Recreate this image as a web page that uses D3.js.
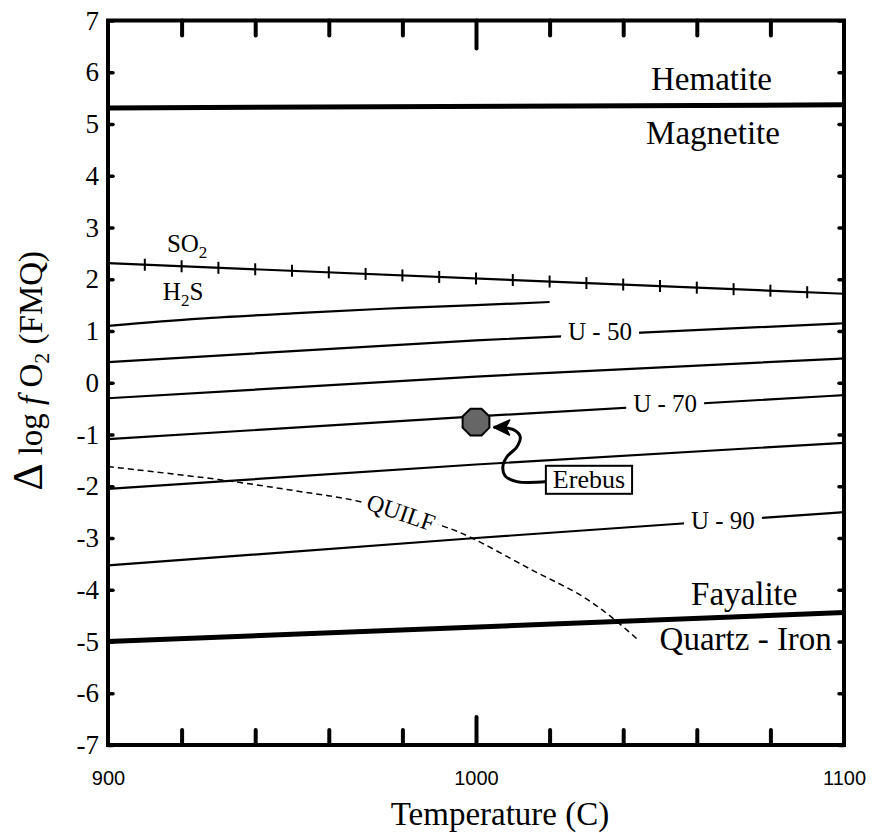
<!DOCTYPE html>
<html>
<head>
<meta charset="utf-8">
<script src="https://cdn.jsdelivr.net/npm/d3@7/dist/d3.min.js"></script>
<style>
  html, body { margin: 0; padding: 0; background: #fff; }
  svg { display: block; }
  .serif { font-family: "Liberation Serif", "Times New Roman", serif; }
</style>
</head>
<body>
<svg id="chart" width="874" height="833"></svg>
<script>
// Axis settings
const tempDomain = [900, 1100];
const fo2Domain = [-7, 7];
const yTickValues = [7, 6, 5, 4, 3, 2, 1, 0, -1, -2, -3, -4, -5, -6, -7];
const xTickLabels = [900, 1000, 1100];
const xMinorTicks = [920, 940, 960, 980, 1020, 1040, 1060, 1080];
const xMajorTicks = [1000];

// Buffer curves: [temperature (C), Δlog fO2 relative to FMQ]
const hematiteMagnetite = [[900, 5.31], [1100, 5.37]];
const fayaliteQuartzIron = [[900, -5.0], [1100, -4.44]];
const so2H2S = [[900, 2.31], [1100, 1.72]];
const so2H2STicks = [910, 920, 930, 940, 950, 960, 970, 980, 990, 1000,
                     1010, 1020, 1030, 1040, 1050, 1060, 1070, 1080, 1090];
const h2sLimit = [[900, 1.10], [925, 1.24], [950, 1.34], [975, 1.43], [1000, 1.50], [1020, 1.56]];
const u50 = [[900, 0.40], [1000, 0.82], [1100, 1.15]];
const u60 = [[900, -0.30], [1000, 0.12], [1100, 0.47]];
const u70 = [[900, -1.09], [1000, -0.65], [1100, -0.24]];
const u80 = [[900, -2.05], [1000, -1.58], [1100, -1.16]];
const u90 = [[900, -3.53], [1000, -3.00], [1100, -2.50]];
const quilf = [[900, -1.62], [930, -1.87], [952, -2.10], [968, -2.29], [991, -2.77],
               [998, -2.97], [1015, -3.61], [1029, -4.13], [1037, -4.54], [1044.4, -4.99]];

// Erebus estimate and its callout
const erebus = [[1000, -0.76]];
const erebusArrow = [[1019.3, -1.91], [1011.1, -1.91], [1007.9, -1.80], [1007.3, -1.62],
                     [1008.4, -1.43], [1011.1, -1.24], [1012.0, -1.04], [1010.3, -0.91], [1004.8, -0.86]];

// Text annotations: [label, temperature, fO2]
const fieldLabels = [
  ["Hematite", 1064, 5.66],
  ["Magnetite", 1064.4, 4.61],
  ["Fayalite", 1072.9, -4.29],
  ["Quartz - Iron", 1073.3, -5.17]
];
const curveLabels = [
  ["U - 50", 1033.7, 0.83],
  ["U - 70", 1051.4, -0.56],
  ["U - 90", 1067.1, -2.82]
];

const svg = d3.select("#chart");
const W = 874, H = 833;
const margin = { left: 108, right: W - 844, top: 20.5, bottom: H - 745 };

const x = d3.scaleLinear().domain(tempDomain).range([margin.left, W - margin.right]);
const y = d3.scaleLinear().domain(fo2Domain).range([H - margin.bottom, margin.top]);

svg.append("rect").attr("width", W).attr("height", H).attr("fill", "#fff");

const line = d3.line().x(d => x(d[0])).y(d => y(d[1]));
const smooth = d3.line().x(d => x(d[0])).y(d => y(d[1])).curve(d3.curveNatural);

const plot = svg.append("g");

// Thin contour lines
[h2sLimit, u50, u60, u70, u80, u90].forEach(d => {
  plot.append("path").attr("d", smooth(d))
    .attr("fill", "none").attr("stroke", "#000").attr("stroke-width", 2.2);
});

// SO2 / H2S boundary with cross ticks
plot.append("path").attr("d", line(so2H2S))
  .attr("fill", "none").attr("stroke", "#000").attr("stroke-width", 2.2);
const so2Y = d3.scaleLinear().domain(so2H2S.map(d => d[0])).range(so2H2S.map(d => d[1]));
plot.selectAll(".so2tick").data(so2H2STicks).join("line")
  .attr("x1", d => x(d)).attr("x2", d => x(d))
  .attr("y1", d => y(so2Y(d)) - 6).attr("y2", d => y(so2Y(d)) + 6)
  .attr("stroke", "#000").attr("stroke-width", 2);

// QUILF equilibrium (dashed)
plot.append("path").attr("d", d3.line().x(d => x(d[0])).y(d => y(d[1])).curve(d3.curveCatmullRom)(quilf))
  .attr("fill", "none").attr("stroke", "#000").attr("stroke-width", 1.5)
  .attr("stroke-dasharray", "6,4");

// Heavy buffer lines
[hematiteMagnetite, fayaliteQuartzIron].forEach(d => {
  plot.append("path").attr("d", line(d))
    .attr("fill", "none").attr("stroke", "#000").attr("stroke-width", 5);
});

// Labels on contours, knocked out of the line
curveLabels.forEach(([t, tx, ty]) => {
  const g = plot.append("g");
  const txt = g.append("text").attr("class", "serif")
    .attr("x", x(tx)).attr("y", y(ty))
    .attr("text-anchor", "middle").attr("font-size", 25).text(t);
  const b = txt.node().getBBox();
  g.insert("rect", "text").attr("x", b.x - 7).attr("y", b.y + 2)
    .attr("width", b.width + 14).attr("height", b.height - 4).attr("fill", "#fff");
});

// QUILF label along the curve
{
  const g = plot.append("g")
    .attr("transform", `translate(${x(979.6)},${y(-2.51)}) rotate(19)`);
  const txt = g.append("text").attr("class", "serif")
    .attr("x", 0).attr("y", 8).attr("text-anchor", "middle")
    .attr("font-size", 24).text("QUILF");
  const b = txt.node().getBBox();
  g.insert("rect", "text").attr("x", b.x - 4).attr("y", b.y)
    .attr("width", b.width + 8).attr("height", b.height).attr("fill", "#fff");
}

// SO2 / H2S labels
{
  const s = plot.append("text").attr("class", "serif").attr("font-size", 25)
    .attr("x", x(916)).attr("y", y(2.53));
  s.append("tspan").text("SO");
  s.append("tspan").attr("font-size", 17).attr("dy", 6).text("2");
  const h = plot.append("text").attr("class", "serif").attr("font-size", 25)
    .attr("x", x(914.9)).attr("y", y(1.60));
  h.append("tspan").text("H");
  h.append("tspan").attr("font-size", 17).attr("dy", 6).text("2");
  h.append("tspan").attr("dy", -6).text("S");
}

// Field labels
plot.selectAll(".field").data(fieldLabels).join("text")
  .attr("class", "serif")
  .attr("x", d => x(d[1])).attr("y", d => y(d[2]))
  .attr("text-anchor", "middle").attr("font-size", 33).text(d => d[0]);

// Erebus point (octagon)
plot.selectAll(".erebus").data(erebus).join("polygon")
  .attr("points", d => {
    const cx = x(d[0]), cy = y(d[1]), r = 14.5;
    return d3.range(8).map(i => {
      const a = Math.PI / 8 + i * Math.PI / 4;
      return [cx + r * Math.cos(a), cy + r * Math.sin(a)].join(",");
    }).join(" ");
  })
  .attr("fill", "#666").attr("stroke", "#000").attr("stroke-width", 2);

// Erebus callout arrow
svg.append("defs").append("marker")
  .attr("id", "head").attr("viewBox", "0 0 18 18")
  .attr("markerUnits", "userSpaceOnUse")
  .attr("refX", 17).attr("refY", 9)
  .attr("markerWidth", 18).attr("markerHeight", 18)
  .attr("orient", "auto")
  .append("path").attr("d", "M1,1.5 L17,9 L1,16.5 L5,9 Z")
  .attr("fill", "#000").attr("stroke", "#000").attr("stroke-width", 1.5)
  .attr("stroke-linejoin", "round");

plot.append("path")
  .attr("d", d3.line().x(d => x(d[0])).y(d => y(d[1])).curve(d3.curveCatmullRom)(erebusArrow))
  .attr("fill", "none").attr("stroke", "#000").attr("stroke-width", 3)
  .attr("marker-end", "url(#head)");

// Erebus label box
{
  const g = plot.append("g");
  const txt = g.append("text").attr("class", "serif")
    .attr("x", x(1030.7)).attr("y", y(-2.03))
    .attr("text-anchor", "middle").attr("font-size", 26).text("Erebus");
  const b = txt.node().getBBox();
  g.insert("rect", "text").attr("x", b.x - 7).attr("y", b.y + 1)
    .attr("width", b.width + 14).attr("height", b.height - 1)
    .attr("fill", "#fff").attr("stroke", "#000").attr("stroke-width", 2);
}

// Axes: ticks point inward
function styleAxis(g, width) {
  g.select(".domain").remove();
  g.selectAll(".tick line").attr("stroke", "#000").attr("stroke-width", width)
    .attr("stroke-linecap", "round");
}
const plainNumber = d => String(d);

const yLeft = svg.append("g").attr("transform", `translate(${x(900)},0)`)
  .call(d3.axisLeft(y).tickValues(yTickValues).tickSize(-5).tickPadding(9).tickFormat(plainNumber));
styleAxis(yLeft, 3.5);
yLeft.selectAll("text").attr("class", "serif").attr("font-size", 27).attr("fill", "#000");

const yRight = svg.append("g").attr("transform", `translate(${x(1100)},0)`)
  .call(d3.axisRight(y).tickValues(yTickValues).tickSize(-5).tickFormat(""));
styleAxis(yRight, 3.5);

[[d3.axisBottom, y(-7)], [d3.axisTop, y(7)]].forEach(([ax, py]) => {
  const gMinor = svg.append("g").attr("transform", `translate(0,${py})`)
    .call(ax(x).tickValues(xMinorTicks).tickSize(-15).tickFormat(""));
  styleAxis(gMinor, 4);
  const gMajor = svg.append("g").attr("transform", `translate(0,${py})`)
    .call(ax(x).tickValues(xMajorTicks).tickSize(-28).tickFormat(""));
  styleAxis(gMajor, 4);
});

const xLabels = svg.append("g").attr("transform", `translate(0,${y(-7)})`)
  .call(d3.axisBottom(x).tickValues(xTickLabels).tickSize(0).tickPadding(26).tickFormat(plainNumber));
xLabels.select(".domain").remove();
xLabels.selectAll("text").attr("font-family", "'Liberation Sans', Arial, sans-serif")
  .attr("font-size", 20).attr("fill", "#000");

// Plot frame
svg.append("rect")
  .attr("x", x(900)).attr("y", y(7))
  .attr("width", x(1100) - x(900)).attr("height", y(-7) - y(7))
  .attr("fill", "none").attr("stroke", "#000").attr("stroke-width", 4);

// Axis titles
svg.append("text").attr("class", "serif")
  .attr("x", 500).attr("y", 825).attr("text-anchor", "middle")
  .attr("font-size", 33).text("Temperature (C)");

{
  const t = svg.append("text").attr("class", "serif")
    .attr("transform", `translate(42,${(y(7) + y(-7)) / 2 - 12}) rotate(-90)`)
    .attr("text-anchor", "middle").attr("font-size", 33);
  t.append("tspan").attr("font-size", 42).text("Δ");
  t.append("tspan").text(" log ");
  t.append("tspan").attr("font-style", "italic").text("f");
  t.append("tspan").text(" O");
  t.append("tspan").attr("font-size", 22).attr("dy", 7).text("2");
  t.append("tspan").attr("dy", -7).text(" (FMQ)");
}
</script>
</body>
</html>
